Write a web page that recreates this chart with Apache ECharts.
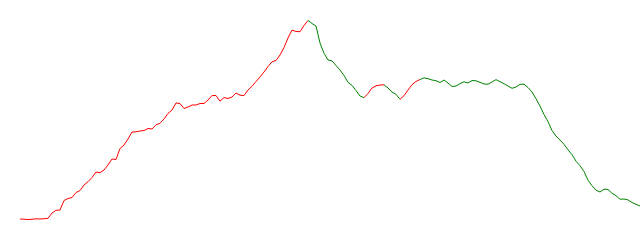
<!DOCTYPE html>
<html>
<head>
<meta charset="utf-8">
<script src="https://cdn.jsdelivr.net/npm/echarts@6/dist/echarts.min.js"></script>
<style>html,body{margin:0;padding:0;background:#fff}#c{width:640px;height:240px}</style>
</head>
<body>
<div id="c"></div>
<script>
const values = [
21,20.8,20.5,20.7,21.2,21,21.3,21.7,27,29.7,
30,39.5,41.5,42.5,47.5,49.5,55,58.3,62.5,68,
67.3,70,75,81,80.5,91.5,95,101,108,108.2,
109,109.5,111.5,111,115.2,116.7,121,126.5,130,137,
136.5,131.5,133,135,135,136.5,136.5,140,144.5,144.5,
138.8,142.5,141.5,143,147,144.8,144.4,150,153.7,158.5,
163,168,173.5,178.2,179.5,185,192.5,202,210,208.5,
208.3,214.5,219.5,216.5,214,197,186.7,180,179.2,174.5,
170,164.5,157.7,154.7,149.5,144,142.3,146.5,152,154.2,
155,155.2,152,148,145.7,140.7,144.3,150,155.4,158.5,
160.5,162.1,161.3,160,159.3,157.5,160,157,153.5,154,
156.5,158.2,157,159.5,159.2,157.7,156,155.8,158,160.4,
158.3,156.3,154,151.7,153,155.7,155.8,152.5,148,141.3,
134,125.5,118.3,109.5,104,100,95.7,90.2,85.4,78.8,
74.4,68.5,59.8,54.3,49.8,48,50.8,50.6,46.7,44.3,
40.8,41,40.1,37.5,35.7,34
];
const categories = values.map((v, i) => String(i));
const sections = [
  {lte: 72, color: 'red'},
  {gt: 72, lte: 86, color: 'green'},
  {gt: 86, lte: 91, color: 'red'},
  {gt: 91, lte: 95, color: 'green'},
  {gt: 95, lte: 100, color: 'red'},
  {gt: 100, color: 'green'}
];
const chart = echarts.init(document.getElementById('c'));
chart.setOption({
  animation: false,
  grid: {left: 20, right: 0, top: 0, bottom: 0},
  xAxis: {type: 'category', data: categories, boundaryGap: false, show: false},
  yAxis: {type: 'value', min: 0, max: 240, show: false},
  visualMap: {show: false, dimension: 0, pieces: sections},
  series: [{
    type: 'line',
    data: values,
    showSymbol: false,
    lineStyle: {width: 1}
  }]
});
</script>
</body>
</html>
